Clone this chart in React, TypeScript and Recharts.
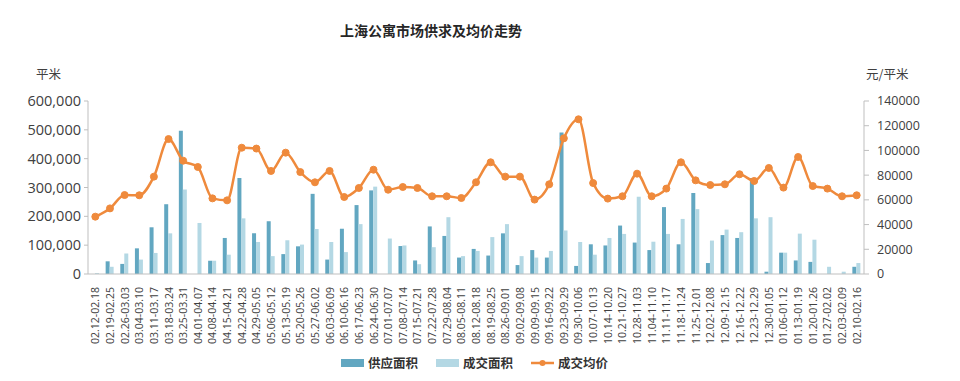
import { ComposedChart, Bar, Line, XAxis, YAxis } from 'recharts';

const categories = [
  '02.12-02.18', '02.19-02.25', '02.26-03.03', '03.04-03.10', '03.11-03.17', '03.18-03.24', '03.25-03.31',
  '04.01-04.07', '04.08-04.14', '04.15-04.21', '04.22-04.28', '04.29-05.05', '05.06-05.12', '05.13-05.19',
  '05.20-05.26', '05.27-06.02', '06.03-06.09', '06.10-06.16', '06.17-06.23', '06.24-06.30', '07.01-07.07',
  '07.08-07.14', '07.15-07.21', '07.22-07.28', '07.29-08.04', '08.05-08.11', '08.12-08.18', '08.19-08.25',
  '08.26-09.01', '09.02-09.08', '09.09-09.15', '09.16-09.22', '09.23-09.29', '09.30-10.06', '10.07-10.13',
  '10.14-10.20', '10.21-10.27', '10.28-11.03', '11.04-11.10', '11.11-11.17', '11.18-11.24', '11.25-12.01',
  '12.02-12.08', '12.09-12.15', '12.16-12.22', '12.23-12.29', '12.30-01.05', '01.06-01.12', '01.13-01.19',
  '01.20-01.26', '01.27-02.02', '02.03-02.09', '02.10-02.16',
];

// 供应面积 (平米)
const supply = [
  0, 44000, 35000, 89000, 162000, 242000, 497000, 0, 46000, 125000, 333000, 141000, 183000, 69000,
  96000, 278000, 50000, 157000, 239000, 290000, 0, 97000, 47000, 165000, 132000, 57000, 87000, 64000,
  141000, 31000, 83000, 57000, 491000, 28000, 103000, 99000, 168000, 109000, 83000, 232000, 103000, 281000,
  38000, 135000, 125000, 333000, 8000, 74000, 47000, 42000, 0, 0, 25000,
];

// 成交面积 (平米)
const deal = [
  3000, 25000, 71000, 50000, 73000, 141000, 293000, 177000, 46000, 67000, 193000, 111000, 62000, 117000,
  102000, 156000, 111000, 76000, 173000, 303000, 123000, 99000, 34000, 93000, 197000, 62000, 80000, 128000,
  173000, 62000, 57000, 80000, 151000, 111000, 67000, 125000, 139000, 268000, 112000, 139000, 191000, 225000,
  116000, 154000, 145000, 193000, 197000, 74000, 140000, 119000, 25000, 8000, 38000,
];

// 成交均价 (元/平米)
const price = [
  46400, 53100, 63900, 63700, 78800, 109200, 91700, 86600, 61200, 59600, 102200, 101500, 83400, 98200,
  82500, 74200, 83400, 62300, 69600, 84400, 68200, 70400, 69600, 62900, 62900, 61500, 74200, 90400,
  78800, 78800, 60200, 72600, 109800, 125200, 73600, 61000, 62900, 81200, 62900, 69100, 90400, 75800,
  72000, 72600, 80700, 75300, 85800, 69900, 94700, 71200, 69100, 62900, 63700,
];

const leftTicks = [0, 100000, 200000, 300000, 400000, 500000, 600000];
const rightTicks = [0, 20000, 40000, 60000, 80000, 100000, 120000, 140000];

const DARK = '#62a7c1';
const LIGHT = '#b4d8e4';
const ORANGE = '#ef8a3c';
const TEXT = '#404040';
const NUM_FONT = '"Open Sans", "Noto Sans CJK SC", sans-serif';
const CJK_FONT = '"Noto Sans CJK SC", sans-serif';

const data = categories.map((name, i) => ({
  name,
  supply: supply[i],
  deal: deal[i],
  price: price[i],
}));

const RotatedTick = (props: any) => {
  const { x, y, payload } = props;
  return (
    <text
      x={0}
      y={0}
      transform={`translate(${x + 4},${y + 5}) rotate(-90)`}
      textAnchor="end"
      fontSize={10.5}
      fill={TEXT}
      fontFamily={NUM_FONT}
    >
      {payload.value}
    </text>
  );
};

const LegendItem = ({ kind, label }: { kind: 'dark' | 'light' | 'line'; label: string }) => (
  <div style={{ display: 'flex', alignItems: 'center', marginRight: 18 }}>
    {kind === 'line' ? (
      <svg width={23} height={10} style={{ marginRight: 4 }}>
        <line x1={0} y1={5} x2={23} y2={5} stroke={ORANGE} strokeWidth={2.5} />
        <circle cx={11.5} cy={5} r={3} fill={ORANGE} />
      </svg>
    ) : (
      <div style={{ width: 23, height: 8, background: kind === 'dark' ? DARK : LIGHT, marginRight: 4 }} />
    )}
    <span>{label}</span>
  </div>
);

export default function App() {
  return (
    <div
      style={{
        position: 'absolute',
        left: 0,
        top: 0,
        width: 960,
        height: 381,
        background: '#fff',
        fontFamily: CJK_FONT,
        color: TEXT,
      }}
    >
      <div
        style={{
          position: 'absolute',
          left: 340,
          top: 20,
          fontSize: 14,
          fontWeight: 700,
          color: '#262626',
        }}
      >
        上海公寓市场供求及均价走势
      </div>
      <div style={{ position: 'absolute', left: 36, top: 64, fontSize: 12.5 }}>平米</div>
      <div style={{ position: 'absolute', left: 866, top: 64, fontSize: 12.5 }}>元/平米</div>

      <ComposedChart
        width={960}
        height={381}
        data={data}
        barGap={0}
        barCategoryGap="20%"
        margin={{ top: 101, right: 0, left: 0, bottom: 37 }}
      >
        <XAxis
          dataKey="name"
          interval={0}
          height={70}
          tick={<RotatedTick />}
          tickLine={false}
          axisLine={{ stroke: '#bfbfbf' }}
        />
        <YAxis
          yAxisId="left"
          width={88}
          domain={[0, 600000]}
          ticks={leftTicks}
          tickFormatter={(v: number) => v.toLocaleString('en-US')}
          tick={{ fill: TEXT, fontSize: 14.5, fontFamily: NUM_FONT }}
          tickSize={4}
          tickMargin={3}
          tickLine={{ stroke: '#bfbfbf' }}
          axisLine={{ stroke: '#bfbfbf' }}
        />
        <YAxis
          yAxisId="right"
          orientation="right"
          width={96}
          domain={[0, 140000]}
          ticks={rightTicks}
          tick={{ fill: TEXT, fontSize: 12.5, fontFamily: NUM_FONT }}
          tickSize={5}
          tickMargin={8}
          tickLine={{ stroke: '#bfbfbf' }}
          axisLine={{ stroke: '#bfbfbf' }}
        />
        <Bar yAxisId="left" dataKey="supply" name="供应面积" fill={DARK} barSize={4} isAnimationActive={false} />
        <Bar yAxisId="left" dataKey="deal" name="成交面积" fill={LIGHT} barSize={4} isAnimationActive={false} />
        <Line
          yAxisId="right"
          type="monotone"
          dataKey="price"
          name="成交均价"
          stroke={ORANGE}
          strokeWidth={2.5}
          dot={{ r: 3.5, fill: ORANGE, stroke: ORANGE, strokeWidth: 1 }}
          isAnimationActive={false}
        />
      </ComposedChart>

      <div
        style={{
          position: 'absolute',
          left: 341,
          top: 353,
          display: 'flex',
          fontSize: 12.5,
          fontWeight: 700,
          color: '#333',
        }}
      >
        <LegendItem kind="dark" label="供应面积" />
        <LegendItem kind="light" label="成交面积" />
        <LegendItem kind="line" label="成交均价" />
      </div>
    </div>
  );
}
